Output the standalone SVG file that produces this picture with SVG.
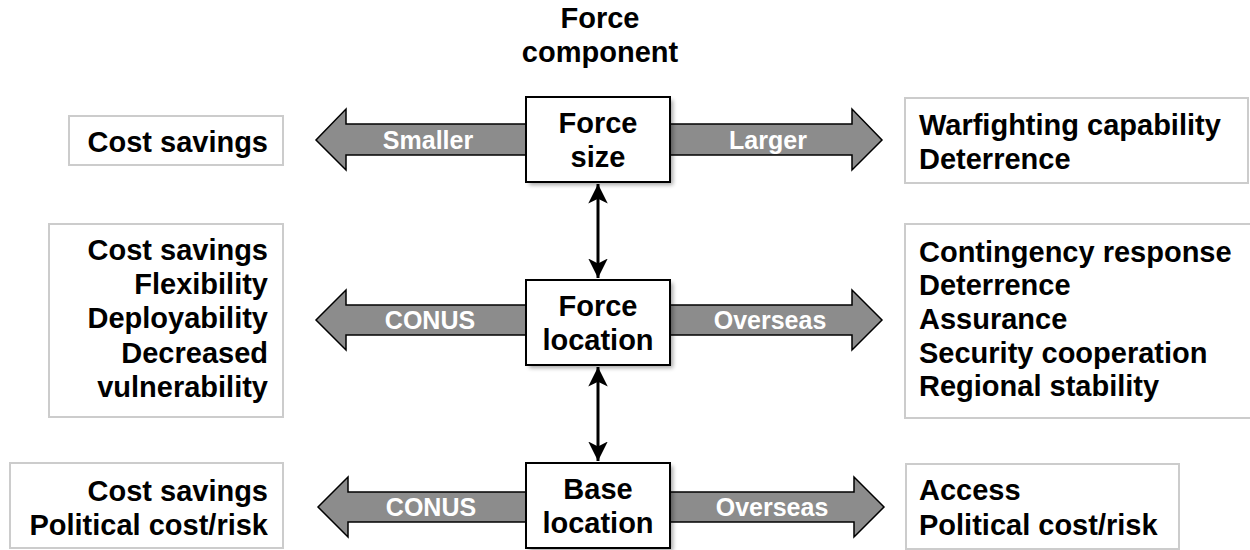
<svg xmlns="http://www.w3.org/2000/svg" width="1250" height="550" viewBox="0 0 1250 550">
<style>
  text { font-family: "Liberation Sans", Arial, sans-serif; font-weight: bold; }
  .t { font-size: 29px; fill: #000; }
  .lbl { font-size: 25px; fill: #fff; text-anchor: middle; }
  .mid { text-anchor: middle; }
  .end { text-anchor: end; }
  .node { fill: #fff; stroke: #000; stroke-width: 2; }
  .shadow { fill: #000; opacity: 0.35; filter: url(#blur); }
  .tbox { fill: #fff; stroke: #cccccc; stroke-width: 2; }
  .fat { fill: #8c8c8c; stroke: #000; stroke-width: 1.5; stroke-linejoin: miter; }
  .vline { stroke: #000; stroke-width: 3; fill: none; marker-start: url(#ah); marker-end: url(#ah); }
</style>
<defs>
  <filter id="blur" x="-10%" y="-10%" width="130%" height="130%"><feGaussianBlur stdDeviation="2"/></filter>
  <marker id="ah" viewBox="0 0 10 10" refX="10" refY="5" markerWidth="6.5" markerHeight="6.5" orient="auto-start-reverse" markerUnits="strokeWidth">
    <path d="M0,0 L10,5 L0,10 L2.5,5 Z" fill="#000"/>
  </marker>
</defs>

<text class="t mid" x="600" y="28">Force</text>
<text class="t mid" x="600" y="62">component</text>

<g id="connectors">
  <path class="fat" d="M526,124 L346,124 L346,109 L316,140 L346,170 L346,155 L526,155 Z"/>
  <path class="fat" d="M670,124 L852,124 L852,109 L882,140 L852,170 L852,155 L670,155 Z"/>
  <text class="lbl" x="428" y="149">Smaller</text>
  <text class="lbl" x="768" y="149">Larger</text>
  <path class="fat" d="M526,305 L346,305 L346,290 L316,320 L346,350 L346,335 L526,335 Z"/>
  <path class="fat" d="M670,305 L852,305 L852,290 L882,320 L852,350 L852,335 L670,335 Z"/>
  <text class="lbl" x="430" y="329">CONUS</text>
  <text class="lbl" x="770" y="329">Overseas</text>
  <path class="fat" d="M526,492 L348,492 L348,477 L318,507 L348,537 L348,522 L526,522 Z"/>
  <path class="fat" d="M670,492 L854,492 L854,477 L884,507 L854,537 L854,522 L670,522 Z"/>
  <text class="lbl" x="431" y="516">CONUS</text>
  <text class="lbl" x="772" y="516">Overseas</text>
  <line class="vline" x1="598" y1="184" x2="598" y2="278"/>
  <line class="vline" x1="598" y1="367" x2="598" y2="461"/>
</g>

<g id="node-force-size">
  <rect class="shadow" x="529" y="100" width="144" height="85"/>
  <rect class="node" x="526" y="97" width="144" height="85"/>
  <text class="t mid" x="598" y="133">Force</text>
  <text class="t mid" x="598" y="167">size</text>
</g>
<g id="node-force-location">
  <rect class="shadow" x="529" y="283" width="144" height="85"/>
  <rect class="node" x="526" y="280" width="144" height="85"/>
  <text class="t mid" x="598" y="316">Force</text>
  <text class="t mid" x="598" y="350">location</text>
</g>
<g id="node-base-location">
  <rect class="shadow" x="529" y="466" width="144" height="85"/>
  <rect class="node" x="526" y="463" width="144" height="85"/>
  <text class="t mid" x="598" y="499">Base</text>
  <text class="t mid" x="598" y="533">location</text>
</g>

<g id="box-size-smaller">
  <rect class="tbox" x="69" y="116" width="214" height="49"/>
  <text class="t end" x="268" y="152">Cost savings</text>
</g>
<g id="box-size-larger">
  <rect class="tbox" x="905" y="98" width="343" height="85"/>
  <text class="t" x="919" y="135">Warfighting capability</text>
  <text class="t" x="919" y="169">Deterrence</text>
</g>
<g id="box-location-conus">
  <rect class="tbox" x="49" y="224" width="234" height="193"/>
  <text class="t end" x="268" y="260">Cost savings</text>
  <text class="t end" x="268" y="294">Flexibility</text>
  <text class="t end" x="268" y="328">Deployability</text>
  <text class="t end" x="268" y="363">Decreased</text>
  <text class="t end" x="268" y="397">vulnerability</text>
</g>
<g id="box-location-overseas">
  <rect class="tbox" x="905" y="224" width="350" height="194"/>
  <text class="t" x="919" y="262">Contingency response</text>
  <text class="t" x="919" y="295">Deterrence</text>
  <text class="t" x="919" y="329">Assurance</text>
  <text class="t" x="919" y="363">Security cooperation</text>
  <text class="t" x="919" y="396">Regional stability</text>
</g>
<g id="box-base-conus">
  <rect class="tbox" x="10" y="463" width="273" height="85"/>
  <text class="t end" x="268" y="501">Cost savings</text>
  <text class="t end" x="268" y="535">Political cost/risk</text>
</g>
<g id="box-base-overseas">
  <rect class="tbox" x="906" y="464" width="273" height="85"/>
  <text class="t" x="919" y="500">Access</text>
  <text class="t" x="919" y="535">Political cost/risk</text>
</g>
</svg>
